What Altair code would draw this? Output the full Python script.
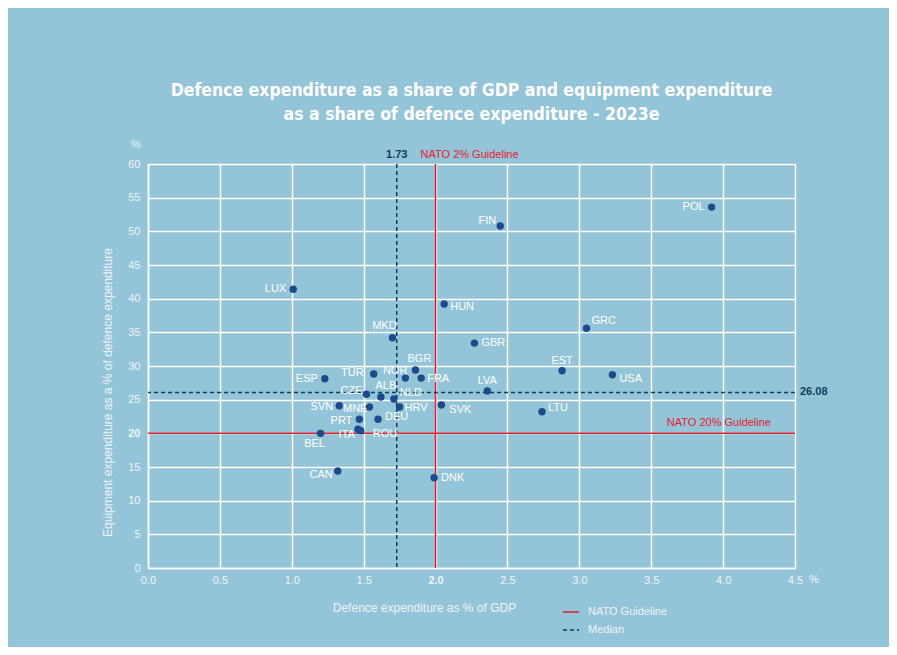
import altair as alt
import pandas as pd

# ---- data ----
countries = ["POL", "FIN", "LUX", "HUN", "MKD", "GBR", "GRC", "EST", "USA", "BGR",
             "NOR", "FRA", "TÜR", "ESP", "LVA", "CZE", "ALB", "NLD", "SVN", "MNE",
             "HRV", "DEU", "SVK", "PRT", "ITA", "ROU", "BEL", "CAN", "DNK", "LTU"]
gdp_share = [3.92, 2.45, 1.01, 2.06, 1.70, 2.27, 3.05, 2.88, 3.23, 1.86,
             1.79, 1.90, 1.57, 1.23, 2.36, 1.52, 1.62, 1.71, 1.33, 1.54,
             1.75, 1.60, 2.04, 1.47, 1.46, 1.48, 1.20, 1.32, 1.99, 2.74]
equip_share = [53.6, 50.8, 41.4, 39.2, 34.2, 33.4, 35.6, 29.3, 28.7, 29.4,
               28.2, 28.2, 28.8, 28.1, 26.3, 25.8, 25.4, 25.1, 24.1, 23.9,
               23.9, 22.1, 24.2, 22.1, 20.6, 20.4, 20.0, 14.4, 13.4, 23.2]

# label placement (style only)
label_dx = [-7, -4, -7, 6, -8, 7, 5, 0, 7, 4,
            2, 6, -10, -7, 0, -4, 5, 6, -6, -2,
            5, 7, 8, -7, -3, 12, -6, -5, 7, 6]
label_dy = [0, -5, 0, 3, -12, 0, -7, -10, 4, -11,
            -7, 1, -1, 0, -10, -3, -11, -6, 1, 2,
            1, -2, 5, 2, 6, 3, 11, 4, 0, -4]
label_align = ["right", "right", "right", "left", "center", "left", "left", "center", "left", "center",
               "right", "left", "right", "right", "center", "right", "center", "left", "right", "right",
               "left", "left", "left", "right", "right", "left", "center", "right", "left", "left"]

x_ticks = [0, 0.5, 1.0, 1.5, 2.0, 2.5, 3.0, 3.5, 4.0, 4.5]
y_ticks = [0, 5, 10, 15, 20, 25, 30, 35, 40, 45, 50, 55, 60]

median_gdp = 1.73
median_equip = 26.08
nato_gdp = 2.0
nato_equip = 20.0

BG = "#94c4d7"
RED = "#e0202e"
NAVY = "#0f3d5c"
DOT = "#1d4a8c"
TXT = "#eef4f7"
FONT = "Liberation Sans"

df = pd.DataFrame({
    "country": countries, "gdp": gdp_share, "equip": equip_share,
    "dx": label_dx, "dy": label_dy, "align": label_align,
})

xscale = alt.Scale(domain=[0, 4.5], nice=False, zero=True)
yscale = alt.Scale(domain=[0, 60], nice=False)

xaxis = alt.Axis(values=x_ticks, format=".1f", grid=True, gridColor="white", gridWidth=1.5,
                 domain=True, domainColor="white", domainWidth=1.5, ticks=False,
                 labelColor=TXT, labelFont=FONT, labelFontSize=11, labelPadding=6,
                 labelOverlap=False, labelFlush=False,
                 labelFontWeight=alt.expr("datum.value == 2 ? 'bold' : 'normal'"),
                 title="Defence expenditure as % of GDP", titleColor=TXT, titleFont=FONT,
                 titleFontSize=12, titleFontWeight="normal", titleX=276, titleY=39,
                 titleAlign="center", titleBaseline="middle")
yaxis = alt.Axis(values=y_ticks, tickCount=13, grid=True, gridColor="white", gridWidth=1.5,
                 domain=True, domainColor="white", domainWidth=1.5, ticks=False,
                 labelColor=TXT, labelFont=FONT, labelFontSize=11, labelPadding=8,
                 labelOverlap=False, labelFlush=False,
                 labelFontWeight=alt.expr("datum.value == 20 ? 'bold' : 'normal'"),
                 title="Equipment expenditure as a % of defence expenditure", titleColor=TXT,
                 titleFont=FONT, titleFontSize=12, titleFontWeight="normal",
                 titleX=-41, titleY=228, titleAlign="center", titleBaseline="middle", titleAngle=-90)

X = lambda f: alt.X(f, scale=xscale, axis=xaxis)
Y = lambda f: alt.Y(f, scale=yscale, axis=yaxis)

base = alt.Chart(df)

points = base.mark_circle(size=55, opacity=1, color=DOT).encode(
    x=X("gdp:Q"),
    y=Y("equip:Q"),
)

labels = base.mark_text(font=FONT, fontSize=11, color="white", baseline="middle",
                        dx=alt.expr("datum.dx"), dy=alt.expr("datum.dy"),
                        align=alt.expr("datum.align")).encode(
    x=X("gdp:Q"),
    y=Y("equip:Q"),
    text="country:N",
)

kind_scale_c = alt.Scale(domain=["NATO Guideline", "Median"], range=[RED, NAVY])
kind_scale_d = alt.Scale(domain=["NATO Guideline", "Median"], range=[[1, 0], [4, 3]])
legend = alt.Legend(title=None, orient="none", legendX=414, legendY=439, symbolType="stroke",
                    symbolSize=260, symbolStrokeWidth=1.5, labelColor=TXT, labelFont=FONT,
                    labelFontSize=11, rowPadding=4, labelOffset=8)

vdf = pd.DataFrame({"v": [nato_gdp, median_gdp], "kind": ["NATO Guideline", "Median"]})
hdf = pd.DataFrame({"v": [nato_equip, median_equip], "kind": ["NATO Guideline", "Median"]})

vrules = alt.Chart(vdf).mark_rule(strokeWidth=1.5).encode(
    x=X("v:Q"),
    color=alt.Color("kind:N", scale=kind_scale_c, legend=legend),
    strokeDash=alt.StrokeDash("kind:N", scale=kind_scale_d, legend=legend),
)
hrules = alt.Chart(hdf).mark_rule(strokeWidth=1.5).encode(
    y=Y("v:Q"),
    color=alt.Color("kind:N", scale=kind_scale_c, legend=legend),
    strokeDash=alt.StrokeDash("kind:N", scale=kind_scale_d, legend=legend),
)

# annotations
top_df = pd.DataFrame({"x": [median_gdp], "y": [60], "t": [f"{median_gdp:.2f}"]})
med_top = alt.Chart(top_df).mark_text(font=FONT, fontSize=11, fontWeight="bold", color=NAVY,
                                      dy=-9, align="center", baseline="middle").encode(
    x=X("x:Q"), y=Y("y:Q"), text="t:N")
nato_top_df = pd.DataFrame({"x": [nato_gdp], "y": [60], "t": ["NATO 2% Guideline"]})
nato_top = alt.Chart(nato_top_df).mark_text(font=FONT, fontSize=11, color=RED, dx=-15, dy=-9,
                                            align="left", baseline="middle").encode(
    x=X("x:Q"), y=Y("y:Q"), text="t:N")
med_right_df = pd.DataFrame({"x": [4.5], "y": [median_equip], "t": [f"{median_equip:.2f}"]})
med_right = alt.Chart(med_right_df).mark_text(font=FONT, fontSize=11, fontWeight="bold", color=NAVY,
                                              dx=5, align="left", baseline="middle").encode(
    x=X("x:Q"), y=Y("y:Q"), text="t:N")
nato_right_df = pd.DataFrame({"x": [4.5], "y": [nato_equip], "t": ["NATO 20% Guideline"]})
nato_right = alt.Chart(nato_right_df).mark_text(font=FONT, fontSize=11, color=RED, dx=-24, dy=-10,
                                                align="right", baseline="middle").encode(
    x=X("x:Q"), y=Y("y:Q"), text="t:N")
pct_df = pd.DataFrame({"x": [4.5, 0], "y": [0, 60], "t": ["%", "%"], "dx": [19, -12], "dy": [12, -19]})
pct = alt.Chart(pct_df).mark_text(font=FONT, fontSize=11, color=TXT, align="center", baseline="middle",
                                  dx=alt.expr("datum.dx"), dy=alt.expr("datum.dy")).encode(
    x=X("x:Q"), y=Y("y:Q"), text="t:N")

chart = alt.layer(
    vrules, hrules, points, labels, med_top, nato_top, med_right, nato_right, pct
).properties(
    width=647, height=404,
    background=BG,
    padding={"left": 140, "top": 156, "right": 94, "bottom": 79},
    autosize=alt.AutoSizeParams(type="none"),
    title=alt.TitleParams(
        text=["Defence expenditure as a share of GDP and equipment expenditure",
              "as a share of defence expenditure - 2023e"],
        font="DejaVu Sans Condensed", fontSize=17.5, fontWeight="bold", color="white",
        anchor="middle", frame="group", offset=16, lineHeight=24,
    ),
).resolve_axis(x="shared", y="shared").configure_view(stroke=None).configure(font=FONT)

chart.save("out.html", embed_options={"renderer": "svg", "actions": False})
